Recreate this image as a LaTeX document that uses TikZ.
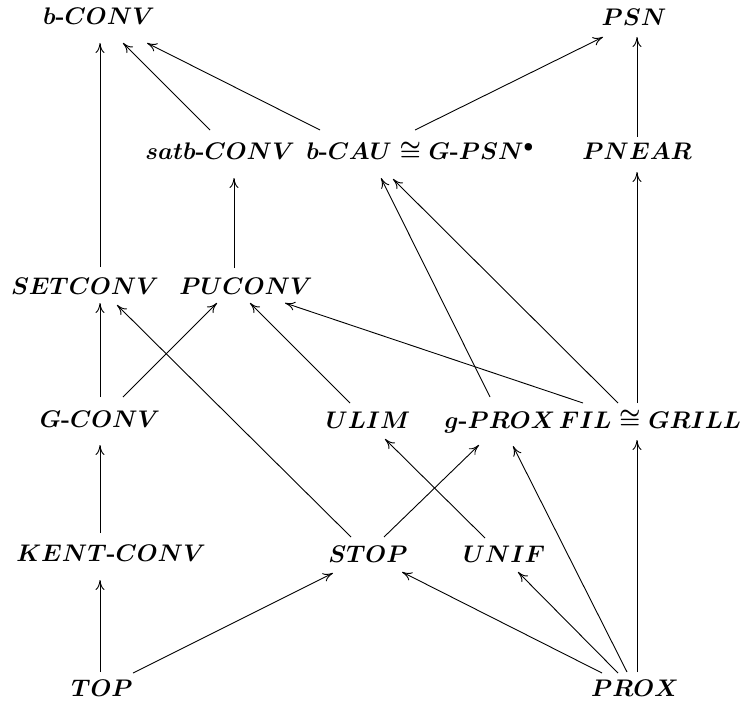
\RequirePackage{fix-cm}
\documentclass[tikz,border=0pt]{standalone}
\usepackage{amsmath}
\usetikzlibrary{arrows.meta}
\newcommand{\hy}{\mbox{\fontsize{24}{28}\bfseries -}}
\tikzset{
  obj/.style={inner sep=0pt, text height=16pt, text depth=0pt,
              font=\fontsize{24}{28}\selectfont\boldmath},
  ar/.style={-{To[length=10pt,width=9pt]}, line width=0.9pt}
}
\begin{document}
\begin{tikzpicture}[x=1pt,y=-1pt]
\path[use as bounding box] (0,0) rectangle (744,706);

% objects of the lattice
\node[obj] (bconv)   at (99,17)   {$b\hy CONV$};
\node[obj] (psn)     at (634,18)  {$PSN$};
\node[obj] (satb)    at (220,152) {$satb\hy CONV$};
\node[obj] (bcau)    at (420,152) {$b\hy CAU \cong G\hy PSN^{\bullet}$};
\node[obj] (pnear)   at (637,152) {$PNEAR$};
\node[obj] (setconv) at (85,286)  {$SETCONV$};
\node[obj] (puconv)  at (246,286) {$PUCONV$};
\node[obj] (gconv)   at (100,419) {$G\hy CONV$};
\node[obj] (ulim)    at (368,420) {$ULIM$};
\node[obj] (gprox)   at (500,420) {$g\hy PROX$};
\node[obj] (fil)     at (650,420) {$FIL \cong GRILL$};
\node[obj] (kent)    at (111,553) {$KENT\hy CONV$};
\node[obj] (stop)    at (368,554) {$STOP$};
\node[obj] (unif)    at (504,554) {$UNIF$};
\node[obj] (top)     at (102,688) {$TOP$};
\node[obj] (prox)    at (635,688) {$PROX$};

% embeddings
\draw[ar] ([shift={(15,-19)}]setconv.center) -- ([shift={(1,26)}]bconv.center);
\draw[ar] ([shift={(-10,-22)}]satb.center)   -- ([shift={(24,26)}]bconv.center);
\draw[ar] ([shift={(-100,-22)}]bcau.center)  -- ([shift={(48,26)}]bconv.center);
\draw[ar] ([shift={(-5,-22)}]bcau.center)    -- ([shift={(-31,19)}]psn.center);
\draw[ar] ([shift={(0,-15)}]pnear.center)    -- ([shift={(3,19)}]psn.center);
\draw[ar] ([shift={(-12,-18)}]puconv.center) -- ([shift={(14,26)}]satb.center);
\draw[ar] ([shift={(-13,-17)}]fil.center)    -- ([shift={(0,20)}]pnear.center);
\draw[ar] ([shift={(-10,-23)}]gprox.center)  -- ([shift={(-39,26)}]bcau.center);
\draw[ar] ([shift={(-32,-17)}]fil.center)    -- ([shift={(-27,27)}]bcau.center);
\draw[ar] ([shift={(-67,-17)}]fil.center)    -- ([shift={(39,17)}]puconv.center);
\draw[ar] ([shift={(-18,-17)}]ulim.center)   -- ([shift={(4,17)}]puconv.center);
\draw[ar] ([shift={(0,-22)}]gconv.center)    -- ([shift={(15,17)}]setconv.center);
\draw[ar] ([shift={(23,-22)}]gconv.center)   -- ([shift={(-29,17)}]puconv.center);
\draw[ar] ([shift={(-17,-17)}]stop.center)   -- ([shift={(32,19)}]setconv.center);
\draw[ar] ([shift={(16,-17)}]stop.center)    -- ([shift={(-21,25)}]gprox.center);
\draw[ar] ([shift={(-19,-16)}]unif.center)   -- ([shift={(17,19)}]ulim.center);
\draw[ar] ([shift={(-8,-16)}]prox.center)    -- ([shift={(13,26)}]gprox.center);
\draw[ar] ([shift={(2,-16)}]prox.center)     -- ([shift={(-13,20)}]fil.center);
\draw[ar] ([shift={(-11,-20)}]kent.center)   -- ([shift={(0,26)}]gconv.center);
\draw[ar] ([shift={(-2,-16)}]top.center)     -- ([shift={(-11,27)}]kent.center);
\draw[ar] ([shift={(31,-15)}]top.center)     -- ([shift={(-35,19)}]stop.center);
\draw[ar] ([shift={(-33,-15)}]prox.center)   -- ([shift={(34,18)}]stop.center);
\draw[ar] ([shift={(-17,-15)}]prox.center)   -- ([shift={(14,18)}]unif.center);
\end{tikzpicture}
\end{document}
